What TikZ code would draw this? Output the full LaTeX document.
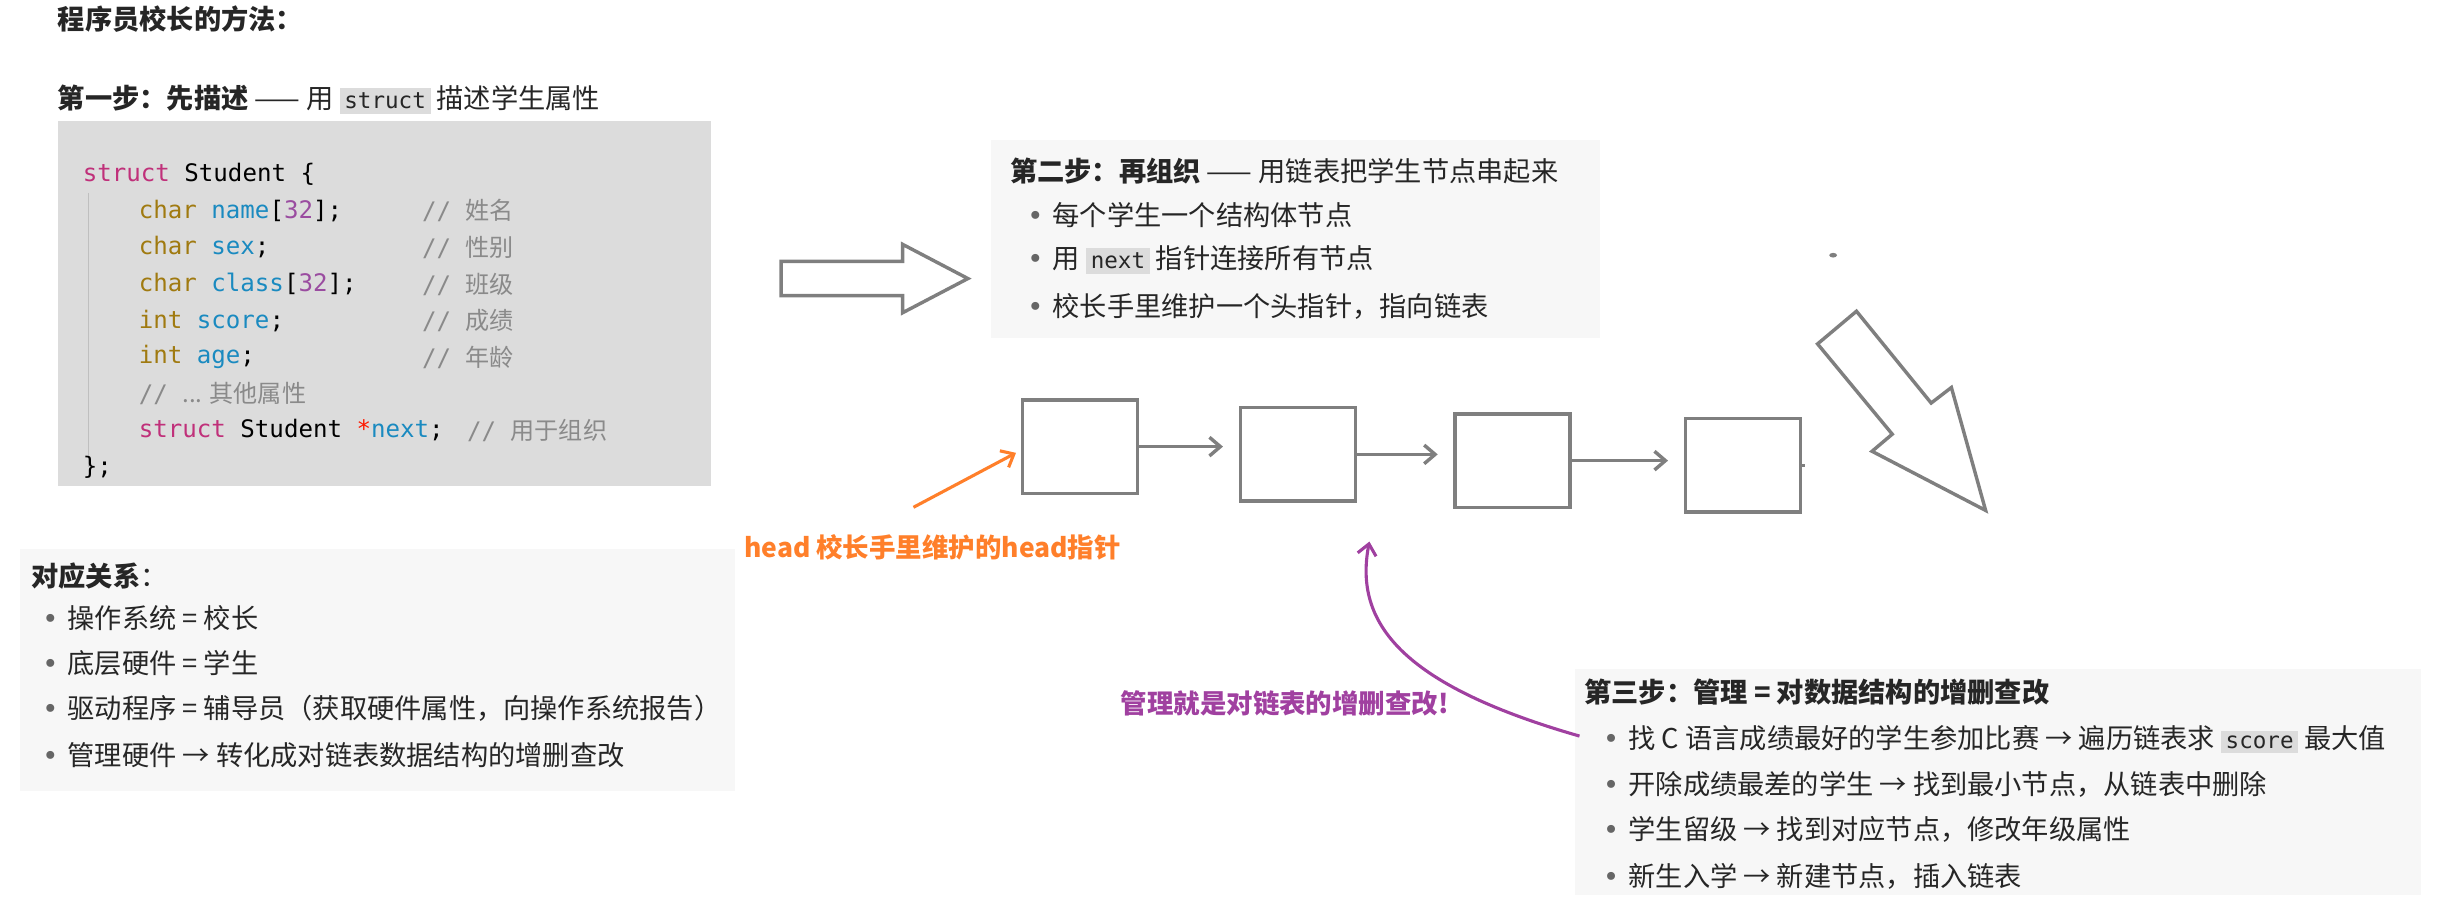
\documentclass[tikz,border=0pt]{standalone}
\usepackage{fontspec}
\setmainfont{Noto Sans CJK SC}
\setmonofont{DejaVu Sans Mono}
\newfontfamily\cjk{Noto Sans CJK SC}
\newfontfamily\dvs{DejaVu Sans}
\usetikzlibrary{arrows.meta,positioning}
\definecolor{codebg}{HTML}{DCDCDC}
\definecolor{boxbg}{HTML}{F7F7F7}
\definecolor{kw}{HTML}{C0307A}
\definecolor{ty}{HTML}{A07A10}
\definecolor{fld}{HTML}{1A8AC0}
\definecolor{num}{HTML}{9A4CA0}
\definecolor{cmt}{HTML}{8A8A8A}
\definecolor{shp}{HTML}{7F7F7F}
\definecolor{org}{HTML}{FF7F2A}
\definecolor{pur}{HTML}{A040A0}
\newcommand{\icode}[1]{{\setlength{\fboxsep}{3pt}\colorbox{codebg}{\ttfamily\fontsize{14.5}{16}\selectfont #1}}}
\newcommand{\cm}[1]{\textcolor{cmt}{\ttfamily // \cjk #1}}
\newcommand{\bul}{\textcolor{gray!80!black}{\dvs •}\hspace{6pt}}

\begin{document}
\begin{tikzpicture}[x=1pt,y=-1pt,
    txt/.style={anchor=west, inner sep=0pt, font=\fontsize{17.5}{20}\selectfont, text=black!85},
    code/.style={anchor=west, inner sep=0pt, font=\fontsize{15.5}{18}\selectfont\ttfamily},
    card/.style={fill=boxbg, draw=none},
    cell/.style={draw=shp, line width=2.2pt, minimum width=74pt, minimum height=60pt, inner sep=0pt},
    link/.style={draw=shp, line width=2.2pt, -{Straight Barb[length=7pt,width=12pt]}}]
    \useasboundingbox (0,0) rectangle (1568,590);

    % Titles
    \node[txt, font=\fontsize{17.5}{20}\selectfont\bfseries] (title) at (37,12) {程序员校长的方法：};
    \node[txt] (step1) at (37,64) {\textbf{第一步：先描述} —— 用 \icode{struct} 描述学生属性};

    % Code block
    \fill[codebg] (37,78) rectangle (457,312);
    \draw[gray!50] (57,124) -- (57,300);
    \node[code] (c0) at (53,112) {\textcolor{kw}{struct} Student \{};
    \node[code] (c1) at (89,135.5) {\textcolor{ty}{char} \textcolor{fld}{name}[\textcolor{num}{32}];};
    \node[code] (c2) at (89,159) {\textcolor{ty}{char} \textcolor{fld}{sex};};
    \node[code] (c3) at (89,182.5) {\textcolor{ty}{char} \textcolor{fld}{class}[\textcolor{num}{32}];};
    \node[code] (c4) at (89,206) {\textcolor{ty}{int} \textcolor{fld}{score};};
    \node[code] (c5) at (89,229.5) {\textcolor{ty}{int} \textcolor{fld}{age};};
    \node[code] (c6) at (89,253) {\cm{... 其他属性}};
    \node[code] (c7) at (89,276.5) {\textcolor{kw}{struct} Student \textcolor{red!80!orange}{*}\textcolor{fld}{next};};
    \node[code] (c8) at (53,300) {\};};
    \node[code] (m1) at (271,135.5) {\cm{姓名}};
    \node[code] (m2) at (271,159) {\cm{性别}};
    \node[code] (m3) at (271,182.5) {\cm{班级}};
    \node[code] (m4) at (271,206) {\cm{成绩}};
    \node[code] (m5) at (271,229.5) {\cm{年龄}};
    \node[code] (m7) at (300,276.5) {\cm{用于组织}};

    % Big arrow right
    \draw[shp, line width=2.2pt, line join=miter] (502,168) -- (580,168) -- (580,157) -- (622,179) -- (580,201) -- (580,190) -- (502,190) -- cycle;

    % Step 2 card
    \fill[card] (637,90) rectangle (1028,217);
    \node[txt] (step2) at (649,110) {\textbf{第二步：再组织} —— 用链表把学生节点串起来};
    \node[txt] (s2a) at (660,138) {\bul 每个学生一个结构体节点};
    \node[txt] (s2b) at (660,167) {\bul 用 \icode{next} 指针连接所有节点};
    \node[txt] (s2c) at (660,197) {\bul 校长手里维护一个头指针，指向链表};

    % Linked list
    \node[cell] (n1) at (694,287) {};
    \node[cell] (n2) at (834,292) {};
    \node[cell] (n3) at (972,296) {};
    \node[cell] (n4) at (1120,299) {};
    \draw[link] (n1.east) -- ([xshift=-10pt]n2.west |- n1.east);
    \draw[link] (n2.east) -- ([xshift=-10pt]n3.west |- n2.east);
    \draw[link] (n3.east) -- ([xshift=-10pt]n4.west |- n3.east);
    \draw[shp, line width=2.2pt] (n4.east) -- ++(2,0);

    % Diagonal arrow and dot
    \fill[shp] (1178,164) ellipse (2.5 and 1.5);
    \draw[shp, line width=2.2pt, line join=miter] (1193,200) -- (1168,221) -- (1216,279) -- (1203,290) -- (1276,328) -- (1254,249) -- (1241,259) -- cycle;

    % head pointer
    \node[txt, text=org, font=\fontsize{17}{20}\selectfont\bfseries] (headlbl) at (478,352) {head 校长手里维护的head指针};
    \coordinate (headtail) at (587,326);
    \draw[org, line width=2pt, -{Straight Barb[length=7pt,width=12pt]}] (headtail) -- ([xshift=-3pt,yshift=-4pt]n1.west);

    % Correspondence card
    \fill[card] (13,353) rectangle (472,508);
    \node[txt] (rel) at (20,370) {\textbf{对应关系}：};
    \node[txt] (r1) at (27,397) {\bul 操作系统 = 校长};
    \node[txt] (r2) at (27,426) {\bul 底层硬件 = 学生};
    \node[txt] (r3) at (27,455) {\bul 驱动程序 = 辅导员（获取硬件属性，向操作系统报告）};
    \node[txt] (r4) at (27,485) {\bul 管理硬件 → 转化成对链表数据结构的增删查改};

    % Step 3 card
    \fill[card] (1012,430) rectangle (1556,575);
    \node[txt] (step3) at (1018,445) {\textbf{第三步：管理 = 对数据结构的增删查改}};
    \node[txt] (t1) at (1030,475) {\bul 找 C 语言成绩最好的学生参加比赛 → 遍历链表求 \icode{score} 最大值};
    \node[txt] (t2) at (1030,504) {\bul 开除成绩最差的学生 → 找到最小节点，从链表中删除};
    \node[txt] (t3) at (1030,533) {\bul 学生留级 → 找到对应节点，修改年级属性};
    \node[txt] (t4) at (1030,563) {\bul 新生入学 → 新建节点，插入链表};

    % management arrow
    \node[txt, text=pur, font=\fontsize{17}{20}\selectfont\bfseries] (mgmt) at (720,452) {管理就是对链表的增删查改!};
    \coordinate (mgmttail) at (1015,473);
    \draw[pur, line width=2pt, -{Straight Barb[length=7pt,width=12pt]}] (mgmttail) .. controls (900,440) and (870,400) .. (880,348);
\end{tikzpicture}
\end{document}
